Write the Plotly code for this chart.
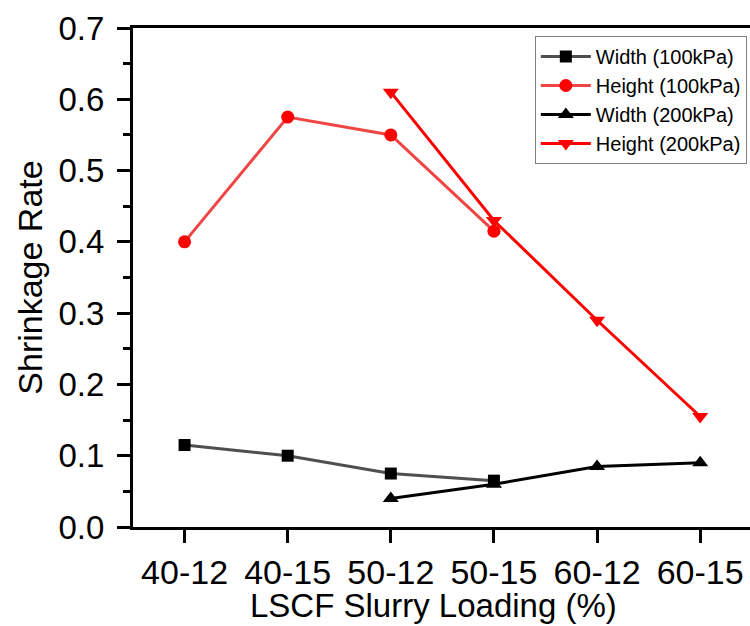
import plotly.graph_objects as go

categories = ["40-12", "40-15", "50-12", "50-15", "60-12", "60-15"]
width_100 = [0.115, 0.100, 0.075, 0.065, None, None]
height_100 = [0.400, 0.575, 0.550, 0.415, None, None]
width_200 = [None, None, 0.040, 0.060, 0.085, 0.090]
height_200 = [None, None, 0.610, 0.430, 0.290, 0.155]
y_ticks = [0.0, 0.1, 0.2, 0.3, 0.4, 0.5, 0.6, 0.7]

FONT = "Liberation Sans, Arial, sans-serif"

fig = go.Figure()
fig.add_trace(go.Scatter(x=categories, y=width_100, name="Width (100kPa)", mode="lines+markers",
                         line=dict(color="#4f4f4f", width=3),
                         marker=dict(symbol="square", size=12, color="black")))
fig.add_trace(go.Scatter(x=categories, y=height_100, name="Height (100kPa)", mode="lines+markers",
                         line=dict(color="#f04545", width=3),
                         marker=dict(symbol="circle", size=13, color="#ff0000")))
fig.add_trace(go.Scatter(x=categories, y=width_200, name="Width (200kPa)", mode="lines+markers",
                         line=dict(color="black", width=3),
                         marker=dict(symbol="triangle-up", size=14, color="black")))
fig.add_trace(go.Scatter(x=categories, y=height_200, name="Height (200kPa)", mode="lines+markers",
                         line=dict(color="#ff0000", width=3),
                         marker=dict(symbol="triangle-down", size=14, color="#ff0000")))

fig.update_layout(
    width=760, height=626,
    margin=dict(l=133, r=0, t=28, b=99, autoexpand=False),
    plot_bgcolor="white", paper_bgcolor="white",
    font=dict(family=FONT, color="black"),
    legend=dict(x=0.979, y=0.984, xanchor="right", yanchor="top",
                bordercolor="#808080", borderwidth=1, bgcolor="white",
                font=dict(size=20, family=FONT), tracegroupgap=0, itemwidth=50),
)
fig.update_xaxes(
    type="category", categoryorder="array", categoryarray=categories,
    range=[-0.5, 5.58], showgrid=False, zeroline=False, automargin=False,
    showline=True, linecolor="black", linewidth=3, mirror=True,
    ticks="outside", ticklen=13, tickwidth=3, tickcolor="black",
    tickfont=dict(size=34, family=FONT),
)
fig.update_yaxes(
    range=[0, 0.7], tickvals=y_ticks, tickformat=".1f",
    showgrid=False, zeroline=False, automargin=False,
    showline=True, linecolor="black", linewidth=3, mirror=False,
    ticks="outside", ticklen=13, tickwidth=3, tickcolor="black",
    ticklabelstandoff=6,
    minor=dict(ticks="outside", ticklen=7, tickwidth=3, tickcolor="black", dtick=0.05, showgrid=False),
    tickfont=dict(size=33, family=FONT),
    title=dict(text="Shrinkage Rate", font=dict(size=34, family=FONT), standoff=6),
)
fig.add_annotation(text="LSCF Slurry Loading (%)", xref="paper", yref="paper",
                   x=(433 - 133) / 627, y=-0.157, xanchor="center", yanchor="middle",
                   showarrow=False, font=dict(size=33, family=FONT))

fig.write_html("out.html", config={"displayModeBar": False},
               post_script="document.documentElement.style.overflow='hidden';document.body.style.margin='0';document.body.style.overflow='hidden';")
